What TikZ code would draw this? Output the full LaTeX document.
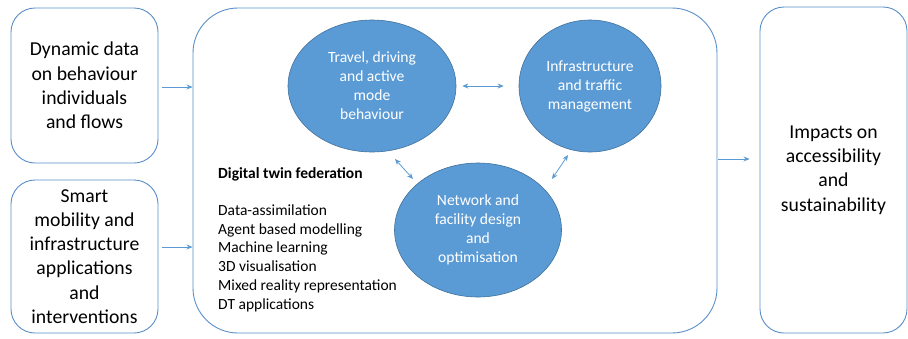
\documentclass[tikz,border=0pt]{standalone}
\usepackage{fontspec}
\setmainfont{Carlito}
\usetikzlibrary{shapes.geometric,arrows.meta}
\definecolor{boxline}{HTML}{5B8FC9}
\definecolor{ellfill}{HTML}{5B9BD5}
\definecolor{ellline}{HTML}{41719C}
\definecolor{arrcol}{HTML}{5B9BD5}
\tikzset{
  sidebox/.style={draw=boxline, line width=0.9pt, rounded corners=24pt, align=center, inner sep=0pt,
    font=\fontsize{19.7}{24.2}\selectfont, text=black},
  mainbox/.style={draw=boxline, line width=0.9pt, rounded corners=45pt, inner sep=0pt},
  ell/.style={ellipse, draw=ellline, line width=0.6pt, fill=ellfill, text=white, align=center, inner sep=0pt,
    font=\fontsize{15.6}{19}\selectfont},
  arr/.style={draw=arrcol, line width=0.8pt, -{Stealth[length=6pt,width=5pt]}},
  darr/.style={draw=arrcol, line width=0.8pt, {Stealth[length=6pt,width=5pt]}-{Stealth[length=6pt,width=5pt]}},
}
\begin{document}
\begin{tikzpicture}[x=1pt,y=-1pt]
\useasboundingbox[fill=white] (0,0) rectangle (908,338);
% boxes
\node[sidebox, minimum width=147pt, minimum height=155pt] (b1) at (84.5,85.5) {Dynamic data\\on behaviour\\individuals\\and flows};
\node[sidebox, minimum width=147pt, minimum height=153pt] (b2) at (84.5,256.5) {Smart\\mobility and\\infrastructure\\applications\\and\\interventions};
\node[mainbox, minimum width=524pt, minimum height=325pt] (main) at (455,170.5) {};
\node[sidebox, minimum width=147pt, minimum height=326pt] (b3) at (833.5,170) {Impacts on\\accessibility\\and\\sustainability};
% ellipses
\node[ell, minimum width=168pt, minimum height=132pt] (e1) at (372,86) {Travel, driving\\and active\\mode\\behaviour};
\node[ell, minimum width=142pt, minimum height=132pt] (e2) at (590,86) {Infrastructure\\and traffic\\management};
\node[ell, minimum width=167pt, minimum height=134pt] (e3) at (478,230) {Network and\\facility design\\and\\optimisation};
% list
\node[anchor=base west, inner sep=0pt, align=left, font=\fontsize{15.5}{18.7}\selectfont] (list) at (218,309)
  {\textbf{Digital twin federation}\\[18.7pt]
   Data-assimilation\\Agent based modelling\\Machine learning\\3D visualisation\\Mixed reality representation\\DT applications};
% arrows
\draw[arr] ([xshift=4pt,yshift=-1.5pt]b1.east) -- ([yshift=-1.5pt]main.west |- b1.east);
\draw[arr] ([xshift=4pt,yshift=9.5pt]b2.east) -- ([yshift=9.5pt]main.west |- b2.east);
\draw[arr] ([xshift=1pt,yshift=11.5pt]main.east) -- ([xshift=-10pt,yshift=11.5pt]b3.west |- main.east);
\draw[darr] ([xshift=6pt]e1.east) -- ([xshift=-15pt]e2.west);
\coordinate (d1a) at (395,159);
\coordinate (d1b) at (413,179);
\coordinate (d2a) at (568,155);
\coordinate (d2b) at (552,179);
\draw[darr] (d1a) -- (d1b);
\draw[darr] (d2a) -- (d2b);
\end{tikzpicture}
\end{document}
